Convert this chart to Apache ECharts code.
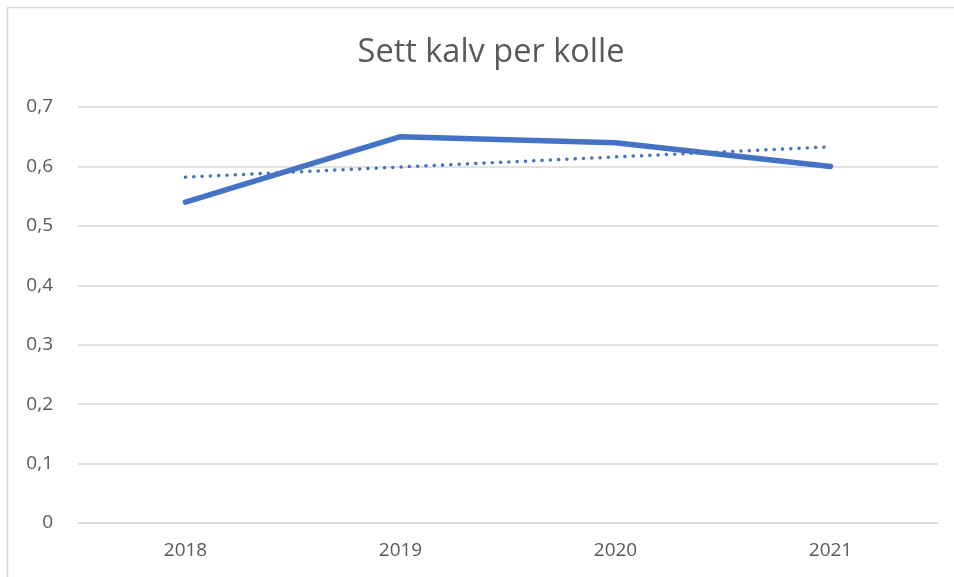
<!DOCTYPE html>
<html lang="no">
<head>
  <meta charset="UTF-8">
  <title>Sett kalv per kolle</title>
  <script src="https://cdn.jsdelivr.net/npm/echarts@6/dist/echarts.min.js"></script>
  <style>
    * {
      margin: 0;
      padding: 0
    }

    html, body {
      width: 100%;
      height: 100%;
      background: #fff;
    }

    #main {
      width: 954px;
      height: 577px;
    }
  </style>
</head>
<body>
  <div id="main"></div>
</body>
<script type="text/javascript">
  // data
  var years = ['2018', '2019', '2020', '2021'];
  var kalvPerKolle = [0.54, 0.65, 0.64, 0.60];
  var trend = [0.582, 0.599, 0.616, 0.633]; // lineær trendlinje, lest av bildet

  var blue = '#4472C4';
  var grey = '#595959';

  var chart = echarts.init(document.getElementById('main'));
  chart.setOption({
    animation: false,
    title: {
      text: 'Sett kalv per kolle',
      left: 486,
      top: 31,
      textAlign: 'center',
      textStyle: {
        fontFamily: 'Open Sans',
        fontSize: 32.5,
        fontWeight: 'normal',
        color: grey
      }
    },
    graphic: [{
      type: 'rect',
      shape: {x: 7.5, y: 7.5, width: 980, height: 620},
      style: {fill: 'none', stroke: '#d9d9d9', lineWidth: 1.5},
      silent: true
    }],
    grid: {
      left: 78,
      right: 16,
      top: 107,
      bottom: 54
    },
    xAxis: {
      type: 'category',
      data: years,
      boundaryGap: true,
      axisLine: {lineStyle: {color: '#d9d9d9', width: 1.5}},
      axisTick: {show: false},
      axisLabel: {
        margin: 18,
        fontFamily: 'Open Sans',
        fontSize: 19,
        color: grey
      }
    },
    yAxis: {
      type: 'value',
      min: 0,
      max: 0.7,
      interval: 0.1,
      axisLine: {show: false},
      axisTick: {show: false},
      splitLine: {lineStyle: {color: '#d9d9d9', width: 1.5}},
      axisLabel: {
        margin: 25,
        fontFamily: 'Open Sans',
        fontSize: 19,
        color: grey,
        formatter: function (v) {
          return v === 0 ? '0' : v.toFixed(1).replace('.', ',');
        }
      }
    },
    series: [
      {
        name: 'Sett kalv per kolle',
        type: 'line',
        data: kalvPerKolle,
        symbol: 'none',
        lineStyle: {color: blue, width: 5.5, cap: 'round', join: 'round'},
        z: 3
      },
      {
        name: 'Lineær trend',
        type: 'line',
        data: trend,
        symbol: 'none',
        lineStyle: {color: blue, width: 3.5, type: [0.1, 8.2], cap: 'round'},
        z: 4
      }
    ]
  });
</script>
</html>
